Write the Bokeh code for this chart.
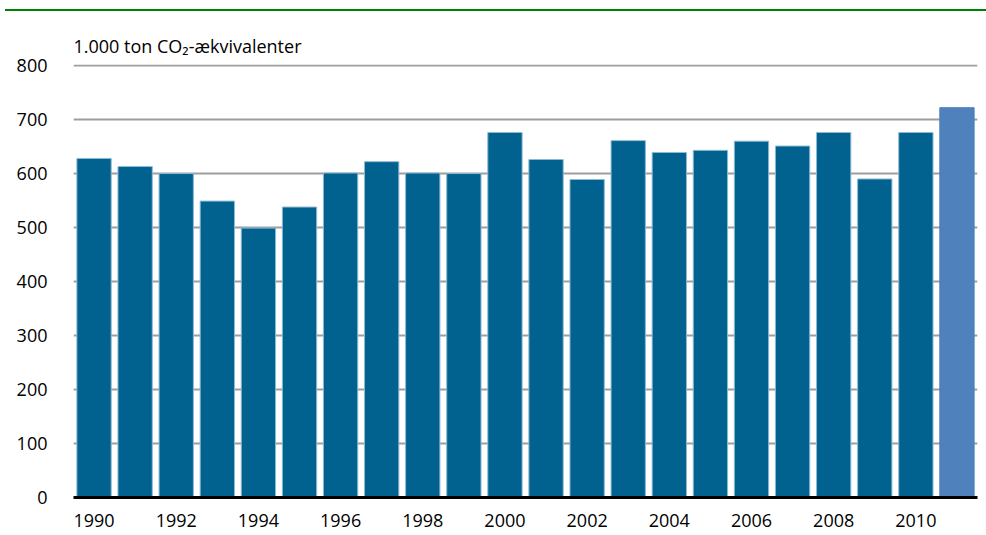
from bokeh.plotting import figure
from bokeh.models import ColumnDataSource, Range1d, FixedTicker, Div, BasicTickFormatter
from bokeh.layouts import column
from bokeh.embed import file_html
from bokeh.resources import INLINE

years = list(range(1990, 2012))
values = [628, 613, 600, 549, 499, 538, 601, 622, 601, 600, 676, 626,
          589, 661, 639, 643, 660, 651, 676, 590, 676, 722]
y_ticks = [0, 100, 200, 300, 400, 500, 600, 700, 800]
x_ticks = [1990, 1992, 1994, 1996, 1998, 2000, 2002, 2004, 2006, 2008, 2010]
unit_label = "1.000 ton CO\u2082-\u00e6kvivalenter"
projection_year = 2011

BASE = "#02628F"
HIGHLIGHT = "#4F81BD"
FONT = "Open Sans"

fills = [HIGHLIGHT if y == projection_year else BASE for y in years]
edges = [HIGHLIGHT if y == projection_year else "#8DBAD3" for y in years]

src = ColumnDataSource(dict(year=years, value=values, fill=fills, edge=edges))

p = figure(width=986, height=523, x_range=Range1d(years[0] - 0.5, years[-1] + 0.5),
           y_range=Range1d(0, 802), output_backend="svg", toolbar_location=None,
           min_border_left=73, min_border_right=9, min_border_top=52, min_border_bottom=38)
p.margin = 0

p.vbar(x="year", top="value", width=0.835, source=src, fill_color="fill",
       line_color="edge", line_width=1)

p.title.text = unit_label
p.title.align = "left"
p.title.text_font = FONT
p.title.text_font_size = "18px"
p.title.text_font_style = "normal"
p.title.text_color = "#000000"
p.title.offset = 0
p.title.standoff = 14

p.outline_line_color = None
p.background_fill_color = "white"
p.border_fill_color = "white"

p.xgrid.grid_line_color = None
p.ygrid.grid_line_color = "#9E9E9E"
p.ygrid.grid_line_width = 2
p.ygrid.ticker = FixedTicker(ticks=y_ticks)

p.yaxis.ticker = FixedTicker(ticks=y_ticks)
p.yaxis.axis_line_color = None
p.yaxis.major_tick_line_color = None
p.yaxis.minor_tick_line_color = None
p.yaxis.major_label_standoff = 20
p.yaxis.major_label_text_font = FONT
p.yaxis.major_label_text_font_size = "18px"
p.yaxis.major_label_text_color = "#000000"

p.xaxis.ticker = FixedTicker(ticks=x_ticks)
p.xaxis.formatter = BasicTickFormatter(use_scientific=False)
p.xaxis.axis_line_color = "#000000"
p.xaxis.axis_line_width = 3
p.xaxis.major_tick_line_color = None
p.xaxis.minor_tick_line_color = None
p.xaxis.major_label_standoff = 10
p.xaxis.major_label_text_font = FONT
p.xaxis.major_label_text_font_size = "18px"
p.xaxis.major_label_text_color = "#000000"

rule = Div(width=986, height=12, margin=0,
           text='<div style="position:absolute;left:5px;top:9px;width:981px;height:2px;background:#008000"></div>')

layout = column(rule, p, spacing=0)

open("out.html", "w").write(file_html(layout, INLINE))
